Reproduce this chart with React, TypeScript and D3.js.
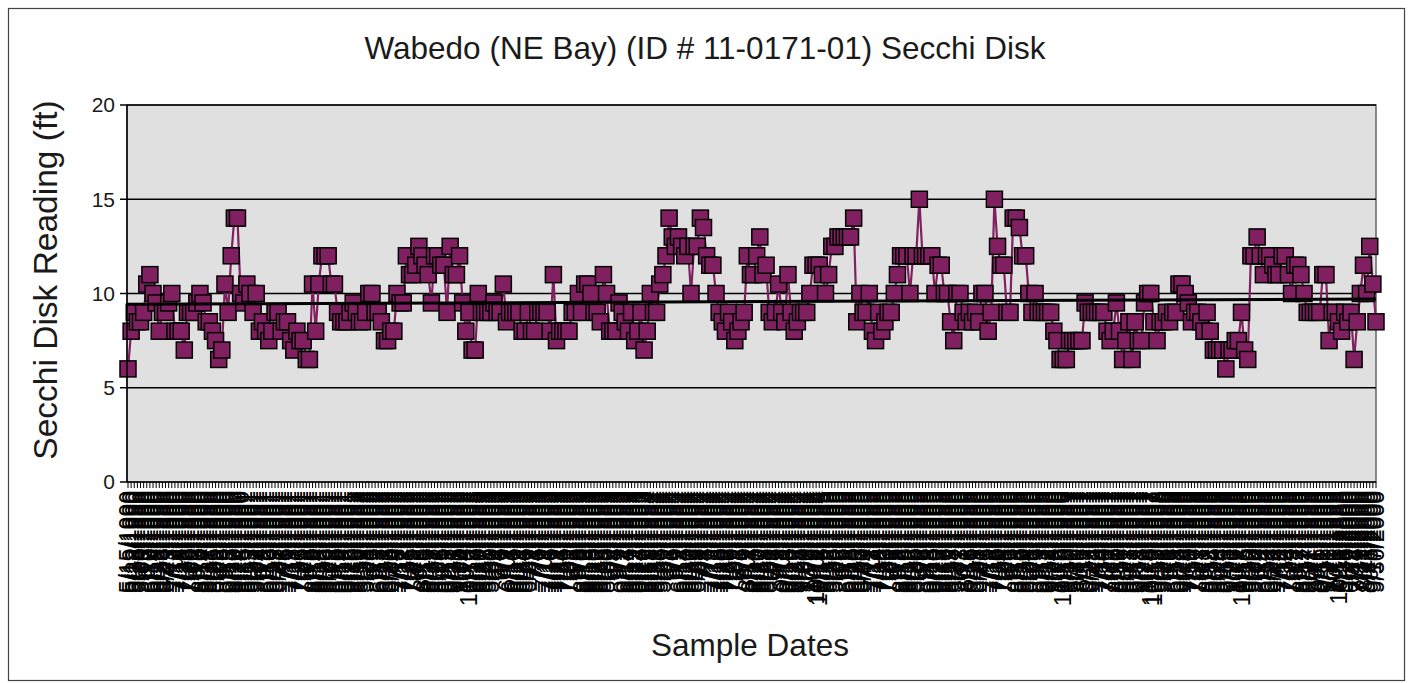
import * as d3 from 'd3';

const TITLE = 'Wabedo (NE Bay) (ID # 11-0171-01) Secchi Disk';
const Y_TITLE = 'Secchi Disk Reading (ft)';
const X_TITLE = 'Sample Dates';
const Y_TICKS = [0, 5, 10, 15, 20];

// sampling seasons (labels are unreadable in the source, so dates are per season)
const SEASON_YEARS = [1990, 1991, 1992, 1993, 1994, 1995, 1996, 1997, 1998, 1999, 2000];
const SEASON_COUNTS = [37, 36, 37, 56, 56, 39, 39, 29, 28, 31, 12];
const SEASON_END = ['9/28', '9/30', '10/12', '9/29', '10/14', '9/27', '10/10', '10/15', '10/13', '10/11', '9/30'];

// secchi readings in feet, in sample order
const SECCHI = [
  6, 8, 9, 8.5, 8.5, 9, 10.5, 11, 10, 9.5, 8, 9, 9, 9.5, 10, 8, 8, 8, 7, 9,
  9, 9, 9.5, 10, 9.5, 8.5, 8.5, 8, 7.5, 6.5, 7, 10.5, 9, 12, 14, 14, 10, 9.5, 10.5, 10,
  9, 10, 8, 8.5, 8, 7.5, 8, 9, 9, 8, 8.5, 8.5, 7.5, 7, 8, 7.5, 7.5, 6.5, 6.5, 10.5,
  8, 10.5, 12, 12, 12, 10.5, 10.5, 9, 8.5, 8.5, 8.5, 9, 9.5, 9, 8.5, 8.5, 9, 10, 10, 9,
  9, 8.5, 7.5, 7.5, 8, 8, 10, 9.5, 9.5, 12, 11, 11, 11.5, 12.5, 12, 11.5, 11, 9.5, 12, 12,
  11.5, 11.5, 9, 12.5, 11, 11, 12, 9.5, 8, 9, 7, 7, 10, 9, 9, 9, 9, 9.5, 9, 9,
  10.5, 8.5, 9, 9, 9, 9, 8, 8, 9, 8, 8, 9, 9, 9, 9, 8, 11, 7.5, 8, 8,
  8, 8, 9, 9, 10, 9, 10.5, 10.5, 10, 9, 9, 8.5, 11, 10, 8, 8, 8, 9.5, 9, 8.5,
  8, 9, 7.5, 8, 9, 7, 8, 10, 9, 9, 10.5, 11, 12, 14, 13, 12.5, 13, 12.5, 12, 12.5,
  10, 12.5, 12.5, 14, 13.5, 12, 11.5, 11.5, 10, 9, 8.5, 8, 9, 8.5, 7.5, 8, 8.5, 9, 12, 11,
  11, 12, 13, 11, 11.5, 9, 8.5, 9, 10.5, 9, 8.5, 11, 9, 8, 8.5, 9, 9, 9, 10, 11.5,
  11.5, 11.5, 11, 10, 11, 12.5, 12.5, 13, 13, 13, 13, 13, 14, 8.5, 10, 9, 9, 10, 8, 7.5,
  9, 8, 8.5, 9, 9, 10, 11, 12, 12, 12, 10, 12, 12, 15, 12, 12, 12, 12, 10, 11.5,
  11.5, 10, 10, 8.5, 7.5, 10, 10, 9, 8.5, 9, 8.5, 9, 8.5, 10, 10, 8, 9, 15, 12.5, 11.5,
  11.5, 9, 9, 14, 14, 13.5, 12, 12, 10, 9, 10, 9, 9, 9, 9, 9, 8, 7.5, 6.5, 6.5,
  6.5, 7.5, 7.5, 7.5, 7.5, 7.5, 9.5, 9, 9, 9, 9, 9, 9, 8, 7.5, 8, 9.5, 8, 6.5, 7.5,
  8.5, 6.5, 8.5, 7.5, 7.5, 9.5, 10, 10, 8.5, 7.5, 8.5, 8.5, 9, 8.5, 9, 9, 10.5, 10.5, 10, 9.5,
  8.5, 9, 9, 8.5, 8, 9, 8, 7, 7, 7, 7, 6, 7, 7, 7.5, 7.5, 9, 7, 6.5, 12,
  12, 13, 12, 11, 12, 12, 11.5, 11, 11, 12, 12, 11, 10, 11.5, 11.5, 11, 10, 9, 9, 9,
  9, 9, 11, 11, 7.5, 9, 9, 8.5, 8, 9, 8.5, 9, 6.5, 8.5, 10, 11.5, 10, 12.5, 10.5, 8.5,
];

const fmt = d3.timeFormat('%-m/%-d/%Y');
const DATES: string[] = SEASON_YEARS.flatMap((yr, s) => {
  const n = SEASON_COUNTS[s];
  const [em, ed] = SEASON_END[s].split('/').map(Number);
  const start = new Date(yr, 4, 15);
  const end = new Date(yr, em - 1, ed);
  const span = d3.timeDay.count(start, end);
  return d3.range(n).map(k => fmt(d3.timeDay.offset(start, Math.round((k * span) / (n - 1)))));
});

const W = 1413, H = 683;
const PLOT = { l: 127, r: 1376, t: 105, b: 482 };
const FONT = '"Liberation Sans", Arial, sans-serif';
const SERIES = '#802060';

export default function App() {
  const x = d3.scaleLinear().domain([0, SECCHI.length - 1]).range([PLOT.l + 1, PLOT.r]);
  const y = d3.scaleLinear().domain([0, 20]).range([PLOT.b, PLOT.t]);

  const line = d3.line<number>().x((_, i) => x(i)).y(d => y(d));

  // linear trend (least squares on sample index)
  const n = SECCHI.length;
  const mx = d3.mean(d3.range(n)) ?? 0;
  const my = d3.mean(SECCHI) ?? 0;
  const sxy = d3.sum(SECCHI, (v, i) => (i - mx) * (v - my));
  const sxx = d3.sum(d3.range(n), i => (i - mx) ** 2);
  const slope = sxy / sxx;
  const trend = (i: number) => my + slope * (i - mx);

  const ms = 16;

  return (
    <svg width={W} height={H} style={{ position: 'absolute', left: 0, top: 0, background: '#fff' }} fontFamily={FONT}>
      <rect x={8.5} y={8.5} width={1396} height={672} fill="#fff" stroke="#444" strokeWidth={1.2} />

      <text x={705} y={59} textAnchor="middle" fontSize={31.5} fill="#1a1a1a">{TITLE}</text>

      {/* plot area */}
      <rect x={PLOT.l} y={PLOT.t} width={PLOT.r - PLOT.l} height={PLOT.b - PLOT.t} fill="#e0e0e0" stroke="#666" strokeWidth={1.5} />
      {Y_TICKS.map(t => (
        <g key={t}>
          {t > 0 && <line x1={PLOT.l} x2={PLOT.r} y1={y(t)} y2={y(t)} stroke="#000" strokeWidth={1.5} />}
          <line x1={PLOT.l - 7} x2={PLOT.l} y1={y(t)} y2={y(t)} stroke="#000" strokeWidth={1.5} />
          <text x={PLOT.l - 12} y={y(t)} dy="0.35em" textAnchor="end" fontSize={21} fill="#1a1a1a">{t}</text>
        </g>
      ))}

      {/* series */}
      <path d={line(SECCHI) ?? ''} fill="none" stroke={SERIES} strokeWidth={2.2} />
      {SECCHI.map((v, i) => (
        <rect key={i} x={x(i) - ms / 2} y={y(v) - ms / 2} width={ms} height={ms}
          fill={SERIES} stroke="#000" strokeWidth={1.5} />
      ))}

      {/* trend line */}
      <line x1={PLOT.l} x2={PLOT.r} y1={y(trend(0))} y2={y(trend(n - 1))} stroke="#000" strokeWidth={3} />

      {/* axes */}
      <line x1={PLOT.l} x2={PLOT.l} y1={PLOT.t} y2={PLOT.b} stroke="#000" strokeWidth={1.5} />
      <line x1={PLOT.l} x2={PLOT.r} y1={PLOT.b} y2={PLOT.b} stroke="#000" strokeWidth={1.5} />
      {DATES.map((d, i) => (
        <g key={i}>
          <line x1={x(i)} x2={x(i)} y1={PLOT.b} y2={PLOT.b + 6} stroke="#000" strokeWidth={1} />
          <text transform={`translate(${x(i)},${PLOT.b + 9}) rotate(-90)`} dy="0.35em" textAnchor="end"
            fontSize={23} fill="#000">{d}</text>
        </g>
      ))}

      <text transform={`translate(57,280) rotate(-90)`} textAnchor="middle" fontSize={33.5} fill="#1a1a1a">{Y_TITLE}</text>
      <text x={750} y={656} textAnchor="middle" fontSize={31.5} fill="#1a1a1a">{X_TITLE}</text>
    </svg>
  );
}
